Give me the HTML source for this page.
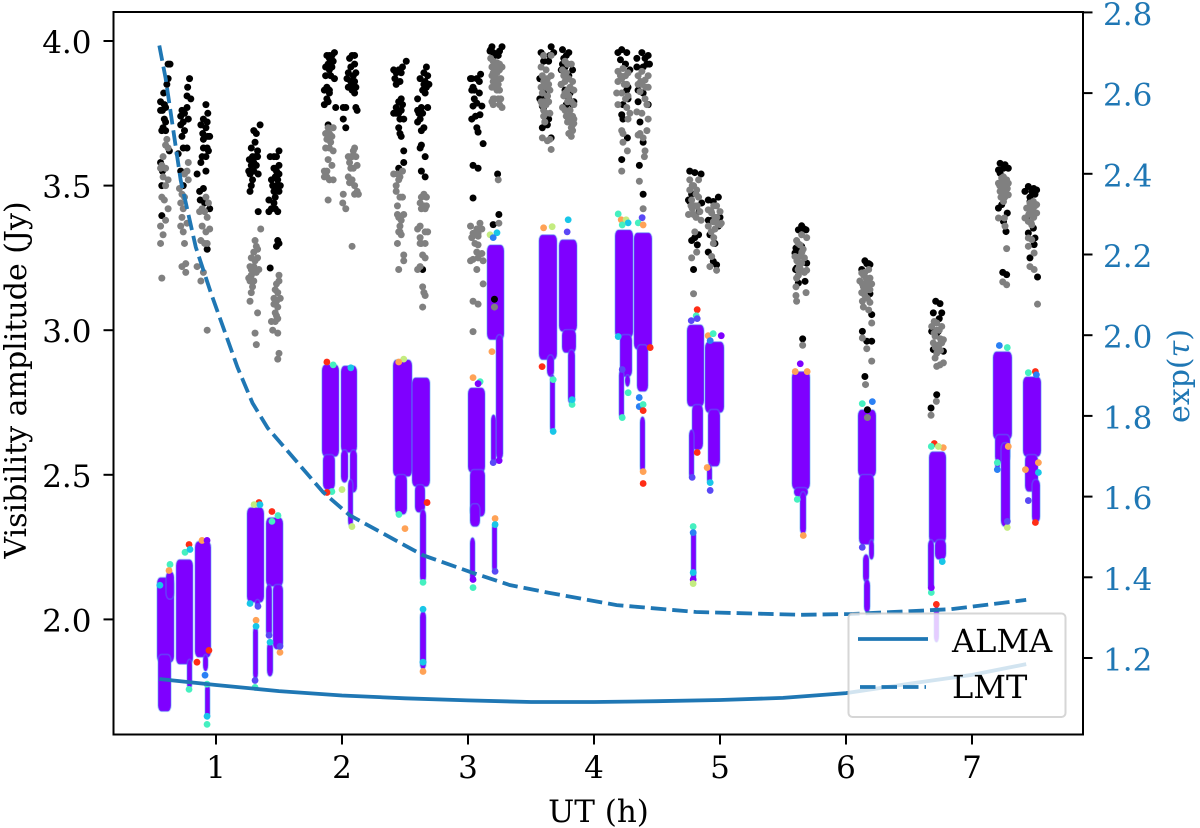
<!DOCTYPE html>
<html lang="en">
<head>
<meta charset="utf-8">
<title>Visibility amplitude and opacity vs UT</title>
<style>
html,body{margin:0;padding:0;background:#fff;}
svg{display:block;font-family:"DejaVu Serif","Liberation Serif",serif;}
</style>
</head>
<body>
<svg id="chart" width="1200" height="828" viewBox="0 0 1200 828" xmlns="http://www.w3.org/2000/svg">
  <rect x="0" y="0" width="1200" height="828" fill="#fff"/>
  <g id="segments"></g>
  <g id="capdots"></g>
  <g id="dots"></g>
  <g id="lines"></g>
  <g id="legend">
    <rect x="848.5" y="613.5" width="217" height="103.5" rx="4" ry="4" fill="#fff" fill-opacity="0.8" stroke="#ccc" stroke-opacity="0.8" stroke-width="2"/>
    <line x1="858" y1="639" x2="928" y2="639" stroke="#1f77b4" stroke-width="3.8"/>
    <line x1="860" y1="687" x2="926" y2="687" stroke="#1f77b4" stroke-width="3.8" stroke-dasharray="15.5 6"/>
    <text x="952" y="652" font-size="32" fill="#000">ALMA</text>
    <text x="952" y="698" font-size="32" fill="#000">LMT</text>
  </g>
  <g id="axes">
    <rect x="113.5" y="12" width="969.5" height="722.5" fill="none" stroke="#000" stroke-width="2"/>
  </g>
  <text x="598.5" y="822" font-size="31" text-anchor="middle" fill="#000">UT (h)</text>
  <text transform="translate(26,380) rotate(-90)" font-size="30" text-anchor="middle" fill="#000">Visibility amplitude (Jy)</text>
  <text transform="translate(1189,376) rotate(-90)" font-size="30" text-anchor="middle" fill="#1f77b4">exp(<tspan font-style="italic">τ</tspan>)</text>
</svg>
<script>
var xTicks = [1,2,3,4,5,6,7];
var ampTicks = [2.0,2.5,3.0,3.5,4.0];
var tauTicks = [1.2,1.4,1.6,1.8,2.0,2.2,2.4,2.6,2.8];

// Opacity curves: UT (h) and exp(tau)
var almaTime = [0.55,1,1.5,2,2.5,3,3.5,4,4.5,5,5.5,6,6.5,7,7.43];
var almaTau = [1.148,1.133,1.118,1.107,1.100,1.095,1.091,1.091,1.093,1.096,1.101,1.113,1.136,1.158,1.185];
var lmtTime = [0.55,0.6,0.72,0.84,0.96,1.17,1.29,1.41,1.85,2.06,2.64,3.04,3.33,3.65,4.18,4.81,5.64,6.04,6.83,7.43];
var lmtTau = [2.718,2.637,2.384,2.218,2.104,1.921,1.832,1.770,1.611,1.554,1.455,1.411,1.381,1.361,1.331,1.314,1.307,1.309,1.321,1.344];

// Dense calibrated scans: [t start, t end, amp high, amp low]
var scanBands = [
[.532,.667,2.145,1.852],[.540,.643,1.879,1.682],[.603,.667,2.166,2.07],
[.683,.817,2.207,1.845],[.770,.810,1.862,1.758],
[.833,.960,2.270,1.869],[.897,.937,1.879,1.821],[.913,.952,1.776,1.655],
[1.246,1.381,2.387,2.059],[1.310,1.349,2.069,2.042],[1.294,1.333,1.976,1.793],
[1.397,1.532,2.352,2.114],[1.397,1.444,2.121,1.941],[1.452,1.532,2.121,1.897],[1.405,1.452,1.921,1.803],
[1.841,1.976,2.881,2.563],[1.849,1.944,2.570,2.449],
[1.992,2.119,2.877,2.577],[1.992,2.048,2.587,2.473],[2.063,2.119,2.587,2.439],[2.048,2.087,2.484,2.321],
[2.405,2.556,2.898,2.494],[2.421,2.516,2.501,2.363],
[2.556,2.698,2.836,2.459],[2.579,2.659,2.466,2.370],[2.619,2.667,2.380,2.128],[2.619,2.667,2.028,1.827],
[3.0,3.135,2.801,2.508],[3.016,3.135,2.518,2.356],[3.016,3.095,2.4,2.321],[3.016,3.056,2.283,2.131],
[3.151,3.286,3.295,2.967],[3.222,3.278,2.985,2.553],[3.183,3.222,2.708,2.536],[3.191,3.230,2.335,2.162],
[3.563,3.706,3.330,2.898],[3.627,3.683,2.915,2.839],[3.651,3.690,2.846,2.646],
[3.722,3.865,3.313,2.995],[3.746,3.857,3.002,2.922],[3.794,3.849,2.933,2.743],
[4.167,4.310,3.347,2.974],[4.206,4.302,2.985,2.839],[4.246,4.286,2.846,2.805],[4.198,4.238,2.864,2.691],
[4.317,4.460,3.337,2.933],[4.341,4.429,2.950,2.788],[4.365,4.405,2.701,2.508],
[4.738,4.873,3.019,2.736],[4.778,4.865,2.743,2.587],[4.754,4.794,2.656,2.484],[4.770,4.810,2.311,2.128],
[4.881,5.032,2.960,2.715],[4.905,5.0,2.726,2.529],[4.897,4.937,2.536,2.466],
[5.571,5.714,2.857,2.449],[5.587,5.698,2.456,2.425],[5.635,5.683,2.442,2.294],
[6.095,6.238,2.725,2.494],[6.103,6.222,2.501,2.259],[6.183,6.222,2.276,2.207],[6.135,6.183,2.225,2.128],[6.143,6.191,2.138,2.024],
[6.659,6.794,2.580,2.266],[6.706,6.794,2.276,2.207],[6.651,6.698,2.276,2.097],[6.698,6.738,2.045,1.921],
[7.167,7.317,2.926,2.622],[7.183,7.302,2.639,2.542],[7.183,7.222,2.553,2.518],[7.230,7.302,2.611,2.321],
[7.405,7.548,2.839,2.563],[7.421,7.524,2.570,2.442],[7.476,7.540,2.484,2.335]
];

// Isolated coloured points at the band edges: [t, amp, colour class]
var edgePoints = [
[.635,2.19,'T'],[.627,2.169,'O'],[.555,2.118,'C'],[.786,2.259,'R'],[.754,2.232,'T'],[.794,2.242,'C'],[.889,2.273,'O'],[.929,2.273,'P'],[.849,1.852,'R'],[.944,1.893,'R'],[.913,1.807,'B'],[.786,1.758,'T'],[.929,1.637,'T'],[.929,1.665,'C'],[.929,1.776,'T'],
[1.341,2.404,'R'],[1.302,2.397,'Y'],[1.349,2.397,'C'],[1.444,2.373,'R'],[1.492,2.359,'T'],[1.444,2.339,'T'],[1.318,1.997,'O'],[1.318,1.976,'C'],[1.31,1.789,'I'],[1.31,1.765,'T'],[1.429,1.921,'C'],[1.421,1.945,'I'],[1.508,1.886,'O'],[1.508,1.907,'I'],[1.27,2.055,'C'],[1.333,2.045,'I'],
[1.92,2.442,'T'],[1.881,2.439,'R'],[2.0,2.449,'Y'],[2.079,2.321,'Y'],[1.88,2.89,'R'],[1.93,2.88,'T'],[2.07,2.87,'C'],
[2.5,2.314,'O'],[2.452,2.363,'T'],[2.675,2.404,'R'],[2.643,2.128,'T'],[2.643,2.035,'C'],[2.643,1.82,'O'],[2.643,1.852,'C'],[2.49,2.9,'Y'],[2.45,2.89,'O'],
[3.04,2.836,'O'],[3.096,2.822,'T'],[3.08,2.815,'P'],[3.04,2.11,'T'],[3.04,2.138,'P'],[3.215,2.349,'O'],[3.215,2.328,'C'],[3.215,2.166,'I'],[3.247,2.549,'P'],[3.2,2.542,'I'],[3.19,2.926,'O'],[3.175,3.33,'Y'],[3.23,3.337,'C'],[3.2,3.32,'B'],
[3.6,3.354,'O'],[3.668,3.358,'Y'],[3.795,3.382,'C'],[3.787,3.34,'I'],[3.588,2.874,'R'],[3.676,2.829,'T'],[3.676,2.65,'C'],[3.826,2.743,'T'],[3.826,2.76,'C'],
[4.192,3.402,'T'],[4.216,3.382,'O'],[4.255,3.382,'Y'],[4.271,3.371,'C'],[4.224,3.364,'T'],[4.382,3.389,'I'],[4.351,3.371,'T'],[4.39,3.364,'O'],[4.271,2.784,'T'],[4.192,2.978,'C'],[4.224,2.864,'I'],[4.224,2.698,'T'],[4.359,2.767,'B'],[4.359,2.736,'B'],[4.39,2.743,'T'],[4.39,2.722,'R'],[4.39,2.511,'O'],[4.39,2.47,'R'],[4.446,2.94,'R'],
[4.819,3.071,'R'],[4.811,3.05,'T'],[4.819,3.04,'I'],[4.772,3.033,'I'],[4.819,2.577,'R'],[4.906,2.981,'O'],[4.946,2.988,'T'],[5.01,2.981,'P'],[4.922,2.964,'B'],[4.898,2.525,'O'],[4.779,2.491,'I'],[4.922,2.446,'I'],[4.922,2.473,'C'],[4.787,2.321,'T'],[4.787,2.3,'B'],[4.787,2.138,'P'],[4.787,2.124,'Y'],[4.787,2.162,'C'],
[5.637,2.884,'P'],[5.597,2.857,'O'],[5.692,2.857,'O'],[5.613,2.415,'T'],[5.661,2.29,'O'],
[6.129,2.746,'T'],[6.209,2.753,'B'],[6.129,2.249,'I'],[6.701,2.608,'R'],[6.772,2.594,'O'],[6.677,2.598,'T'],[6.733,2.598,'Y'],[6.677,2.093,'T'],[6.677,2.11,'P'],[6.764,2.2,'C'],[6.717,2.052,'R'],
[7.217,2.947,'B'],[7.28,2.94,'T'],[7.201,2.518,'B'],[7.201,2.542,'T'],[7.28,2.318,'Y'],[7.28,2.339,'I'],[7.288,2.598,'O'],[7.447,2.853,'T'],[7.503,2.857,'R'],[7.511,2.846,'B'],[7.447,2.411,'I'],[7.503,2.335,'R'],[7.527,2.542,'O'],[7.424,2.518,'O'],[7.527,2.508,'C']
];

// Uncalibrated points: [t, amp]
var rawBlack = [
[.635,3.92],[.62,3.92],[.62,3.87],[.61,3.85],[.585,3.82],[.59,3.78],[.56,3.79],[.575,3.76],[.6,3.77],[.56,3.76],[.59,3.73],[.58,3.7],[.6,3.72],[.57,3.69],[.6,3.69],[.63,3.62],[.56,3.58],[.575,3.55],[.57,3.5],[.57,3.396],
[.79,3.87],[.775,3.84],[.77,3.81],[.8,3.8],[.77,3.77],[.73,3.76],[.75,3.75],[.72,3.74],[.74,3.72],[.78,3.73],[.72,3.71],[.75,3.69],[.73,3.67],[.77,3.63],[.74,3.63],[.7,3.61],[.72,3.55],[.74,3.5],
[.92,3.78],[.935,3.75],[.9,3.73],[.93,3.72],[.88,3.71],[.92,3.7],[.895,3.68],[.935,3.67],[.9,3.66],[.95,3.67],[.94,3.62],[.9,3.63],[.93,3.63],[.89,3.6],[.92,3.6],[.88,3.58],[.92,3.55],[.85,3.54],[.9,3.49],[.87,3.48],[.875,3.45],[.91,3.44],[.95,3.42],[.93,3.28],
[1.35,3.71],[1.3,3.69],[1.32,3.68],[1.31,3.65],[1.33,3.62],[1.28,3.63],[1.29,3.6],[1.31,3.6],[1.33,3.6],[1.265,3.59],[1.3,3.58],[1.28,3.57],[1.32,3.57],[1.26,3.55],[1.3,3.55],[1.27,3.54],[1.335,3.54],[1.29,3.52],[1.28,3.5],[1.27,3.48],[1.335,3.41],
[1.5,3.62],[1.43,3.6],[1.46,3.6],[1.48,3.6],[1.5,3.57],[1.46,3.56],[1.48,3.55],[1.5,3.54],[1.47,3.53],[1.44,3.52],[1.49,3.52],[1.51,3.5],[1.48,3.5],[1.45,3.5],[1.5,3.48],[1.46,3.48],[1.47,3.46],[1.46,3.44],[1.42,3.45],[1.42,3.41],[1.47,3.42],[1.49,3.41],[1.44,3.42],[1.49,3.31],[1.5,3.3],[1.48,3.29],[1.43,3.215],
[1.94,3.96],[1.9,3.95],[1.92,3.95],[1.88,3.95],[1.93,3.93],[1.9,3.94],[1.89,3.92],[1.92,3.91],[1.87,3.91],[1.9,3.9],[1.87,3.88],[1.91,3.88],[1.94,3.87],[1.88,3.84],[1.9,3.83],[1.86,3.83],[1.9,3.82],[1.89,3.79],[1.86,3.78],[1.88,3.8],[1.95,3.77],[1.89,3.71],
[2.08,3.95],[2.1,3.95],[2.06,3.94],[2.1,3.92],[2.07,3.91],[2.11,3.89],[2.05,3.89],[2.09,3.88],[2.07,3.86],[2.1,3.86],[2.04,3.87],[2.08,3.84],[2.11,3.84],[2.05,3.84],[2.08,3.83],[2.1,3.82],[2.11,3.77],[2.12,3.76],[2.01,3.77],[2.03,3.77],[2.01,3.73],[2.03,3.7],
[2.51,3.93],[2.48,3.91],[2.45,3.9],[2.41,3.9],[2.47,3.89],[2.43,3.89],[2.42,3.87],[2.46,3.86],[2.43,3.85],[2.47,3.8],[2.45,3.79],[2.48,3.78],[2.43,3.77],[2.47,3.76],[2.43,3.75],[2.41,3.75],[2.45,3.75],[2.46,3.73],[2.49,3.73],[2.46,3.68],[2.45,3.7],[2.47,3.67],[2.49,3.62],[2.49,3.58],[2.45,3.56],
[2.67,3.91],[2.65,3.89],[2.68,3.88],[2.62,3.87],[2.66,3.86],[2.69,3.85],[2.65,3.85],[2.68,3.85],[2.64,3.83],[2.67,3.84],[2.66,3.82],[2.6,3.8],[2.63,3.77],[2.68,3.77],[2.6,3.76],[2.64,3.75],[2.61,3.75],[2.62,3.73],[2.6,3.72],[2.65,3.7],[2.63,3.69],[2.63,3.64],[2.62,3.63],[2.66,3.6],[2.63,3.55],[2.66,3.53],[2.64,3.21],
[3.03,3.87],[3.1,3.885],[3.09,3.86],[3.04,3.84],[3.03,3.83],[3.09,3.82],[3.05,3.8],[3.07,3.785],[3.04,3.775],[3.11,3.775],[3.095,3.745],[3.06,3.74],[3.03,3.73],[3.07,3.7],[3.08,3.685],[3.12,3.645],[3.04,3.57],[3.08,3.56],[3.04,3.457],[3.07,3.87],[3.02,3.87],[3.05,3.83],
[3.19,3.98],[3.27,3.98],[3.2,3.96],[3.175,3.965],[3.24,3.95],[3.215,3.95],[3.235,3.54],[3.245,3.4],[3.2,3.365],[3.18,3.97],[3.25,3.965],[3.21,3.107],
[3.66,3.98],[3.58,3.96],[3.6,3.95],[3.65,3.95],[3.68,3.96],[3.64,3.93],[3.6,3.93],[3.57,3.87],[3.6,3.82],[3.63,3.81],[3.59,3.8],[3.57,3.8],[3.61,3.78],[3.6,3.77],[3.59,3.775],[3.63,3.73],[3.61,3.72],[3.64,3.73],[3.63,3.71],[3.59,3.7],[3.66,3.665],
[3.75,3.97],[3.78,3.95],[3.8,3.96],[3.76,3.94],[3.75,3.92],[3.79,3.92],[3.77,3.91],[3.74,3.9],[3.8,3.88],[3.83,3.9],[3.79,3.87],[3.74,3.85],[3.77,3.83],[3.81,3.82],[3.84,3.79],[3.8,3.8],[3.78,3.78],[3.83,3.78],
[4.19,3.96],[4.26,3.96],[4.22,3.97],[4.21,3.935],[4.25,3.92],[4.285,3.9],[4.26,3.83],[4.27,3.8],[4.23,3.78],[4.22,3.745],[4.23,3.73],[4.265,3.665],[4.22,3.59],[4.27,3.84],
[4.38,3.96],[4.43,3.95],[4.34,3.94],[4.405,3.94],[4.44,3.92],[4.39,3.91],[4.34,3.91],[4.35,3.83],[4.39,3.82],[4.43,3.78],[4.35,3.79],[4.365,3.72],[4.39,3.65],[4.36,3.57],[4.39,3.47],[4.42,3.92],
[4.76,3.55],[4.80,3.545],[4.85,3.54],[4.775,3.47],[4.76,3.445],[4.855,3.44],[4.835,3.41],[4.775,3.31],[4.83,3.33],[4.8,3.32],[4.82,3.295],[4.79,3.21],[4.75,3.45],
[4.907,3.45],[4.987,3.46],[4.947,3.445],[4.934,3.38],[5.0,3.39],[4.907,3.38],[4.987,3.36],[4.907,3.27],[4.947,3.238],[4.973,3.226],[4.96,3.3],[4.92,3.33],
[5.648,3.361],[5.622,3.347],[5.683,3.347],[5.603,3.284],[5.648,3.29],[5.595,3.267],[5.608,3.215],[5.688,3.232],[5.622,3.163],[5.675,3.169],[5.656,2.97],[5.67,3.35],[5.63,3.28],[5.6,3.21],
[6.15,3.24],[6.19,3.227],[6.125,3.21],[6.19,3.126],[6.204,3.054],[6.13,2.996],[6.165,2.962],[6.204,2.962],[6.15,2.84],[6.17,2.725],[6.18,3.23],[6.165,3.23],
[6.712,3.1],[6.746,3.092],[6.693,3.06],[6.76,3.06],[6.68,2.996],[6.72,2.99],[6.693,2.933],[6.773,2.927],[6.72,2.777],[6.675,2.731],[6.733,2.996],[6.74,3.04],
[7.223,3.577],[7.262,3.572],[7.21,3.554],[7.288,3.56],[7.223,3.543],[7.21,3.422],[7.236,3.434],[7.28,3.405],[7.25,3.376],[7.27,3.341],[7.244,3.2],[7.275,3.192],[7.25,3.56],
[7.447,3.497],[7.513,3.485],[7.42,3.48],[7.474,3.48],[7.46,3.46],[7.46,3.445],[7.435,3.388],[7.487,3.353],[7.447,3.336],[7.5,3.319],[7.493,3.296],[7.46,3.25],[7.52,3.184],[7.49,3.49],[7.5,3.47]
];
var rawGray = [
[.61,3.66],[.6,3.64],[.62,3.63],[.58,3.6],[.57,3.57],[.56,3.56],[.6,3.56],[.58,3.53],[.6,3.5],[.62,3.52],[.57,3.46],[.59,3.45],[.6,3.38],[.62,3.42],[.56,3.36],[.58,3.33],[.56,3.3],[.57,3.18],
[.78,3.58],[.77,3.55],[.75,3.54],[.78,3.52],[.71,3.49],[.73,3.47],[.75,3.46],[.72,3.44],[.74,3.42],[.73,3.39],[.77,3.37],[.74,3.34],[.72,3.36],[.75,3.3],[.76,3.23],[.73,3.22],[.76,3.2],
[.92,3.46],[.94,3.44],[.89,3.42],[.91,3.41],[.93,3.39],[.87,3.41],[.89,3.36],[.92,3.34],[.95,3.35],[.88,3.31],[.91,3.3],[.93,3.3],[.85,3.22],[.9,3.2],[.88,3.17],[.93,3.0],
[1.355,3.35],[1.31,3.31],[1.32,3.29],[1.33,3.28],[1.3,3.27],[1.33,3.25],[1.31,3.24],[1.28,3.25],[1.3,3.22],[1.28,3.21],[1.34,3.21],[1.32,3.2],[1.27,3.22],[1.28,3.19],[1.3,3.2],[1.3,3.17],[1.26,3.18],[1.27,3.17],[1.28,3.13],[1.29,3.15],[1.27,3.1],[1.33,3.06],[1.31,2.99],[1.32,2.95],
[1.5,3.19],[1.48,3.16],[1.5,3.17],[1.47,3.14],[1.49,3.13],[1.46,3.11],[1.48,3.1],[1.51,3.11],[1.46,3.09],[1.49,3.08],[1.47,3.06],[1.48,3.05],[1.49,3.04],[1.47,3.03],[1.44,3.03],[1.45,3.0],[1.49,2.99],[1.5,2.92],[1.49,2.9],
[1.89,3.7],[1.93,3.7],[1.9,3.68],[1.87,3.68],[1.92,3.67],[1.88,3.66],[1.91,3.65],[1.9,3.63],[1.87,3.63],[1.93,3.62],[1.89,3.59],[1.92,3.57],[1.88,3.55],[1.86,3.55],[1.88,3.53],[1.86,3.53],[1.9,3.52],[1.93,3.52],[1.89,3.45],
[2.1,3.63],[2.09,3.62],[2.07,3.6],[2.05,3.6],[2.08,3.6],[2.11,3.6],[2.06,3.58],[2.09,3.56],[2.12,3.57],[2.07,3.56],[2.05,3.53],[2.08,3.52],[2.06,3.51],[2.1,3.5],[2.12,3.48],[2.1,3.47],[2.13,3.47],[2.01,3.47],[2.006,3.44],[2.03,3.42],[2.08,3.29],
[2.48,3.55],[2.46,3.53],[2.44,3.54],[2.41,3.54],[2.45,3.52],[2.43,3.5],[2.43,3.48],[2.48,3.46],[2.46,3.46],[2.44,3.43],[2.46,3.39],[2.49,3.4],[2.45,3.39],[2.44,3.4],[2.47,3.38],[2.46,3.36],[2.45,3.34],[2.46,3.34],[2.47,3.33],[2.44,3.3],[2.49,3.26],[2.49,3.24],[2.45,3.21],
[2.65,3.47],[2.63,3.46],[2.67,3.46],[2.62,3.44],[2.65,3.43],[2.67,3.43],[2.63,3.42],[2.66,3.42],[2.62,3.36],[2.6,3.35],[2.62,3.32],[2.66,3.34],[2.68,3.34],[2.66,3.3],[2.63,3.3],[2.62,3.3],[2.64,3.26],[2.66,3.25],[2.62,3.22],[2.6,3.21],[2.64,3.15],[2.65,3.13],[2.66,3.12],[2.64,3.08],
[3.02,3.36],[3.095,3.37],[3.07,3.35],[3.11,3.35],[3.04,3.335],[3.08,3.325],[3.03,3.32],[3.055,3.3],[3.08,3.295],[3.07,3.27],[3.11,3.265],[3.04,3.245],[3.08,3.25],[3.12,3.24],[3.07,3.21],[3.12,3.16],[3.04,3.1],[3.08,3.09],[3.04,2.995],[3.08,3.335],[3.02,3.24],
[3.18,3.94],[3.2,3.93],[3.23,3.925],[3.25,3.92],[3.19,3.91],[3.22,3.91],[3.25,3.9],[3.27,3.91],[3.2,3.89],[3.23,3.89],[3.19,3.88],[3.22,3.87],[3.26,3.87],[3.2,3.86],[3.24,3.85],[3.19,3.84],[3.23,3.83],[3.21,3.84],[3.25,3.83],[3.2,3.8],[3.24,3.8],[3.26,3.8],[3.19,3.79],[3.25,3.78],[3.2,3.78],[3.27,3.77],[3.21,3.8],[3.24,3.52],[3.245,3.37],[3.21,3.08],
[3.6,3.95],[3.66,3.95],[3.58,3.91],[3.62,3.9],[3.59,3.88],[3.63,3.87],[3.66,3.88],[3.6,3.86],[3.64,3.85],[3.58,3.84],[3.62,3.84],[3.65,3.83],[3.59,3.82],[3.63,3.81],[3.6,3.79],[3.58,3.79],[3.64,3.79],[3.62,3.78],[3.59,3.78],[3.62,3.75],[3.6,3.76],[3.65,3.75],[3.6,3.74],[3.61,3.72],[3.59,3.665],[3.65,3.66],[3.63,3.655],[3.66,3.625],
[3.77,3.93],[3.79,3.92],[3.82,3.92],[3.75,3.9],[3.78,3.89],[3.8,3.87],[3.76,3.88],[3.83,3.86],[3.77,3.86],[3.81,3.84],[3.74,3.85],[3.79,3.83],[3.77,3.82],[3.84,3.83],[3.8,3.81],[3.76,3.81],[3.82,3.79],[3.79,3.79],[3.84,3.78],[3.75,3.77],[3.77,3.76],[3.81,3.76],[3.83,3.74],[3.78,3.74],[3.8,3.74],[3.84,3.73],[3.81,3.72],[3.83,3.71],[3.79,3.72],[3.83,3.69],[3.84,3.715],[3.82,3.7],[3.8,3.68],[3.82,3.67],
[4.23,3.905],[4.19,3.895],[4.27,3.89],[4.22,3.87],[4.19,3.86],[4.26,3.85],[4.25,3.88],[4.22,3.82],[4.18,3.82],[4.27,3.81],[4.25,3.8],[4.19,3.78],[4.26,3.77],[4.22,3.69],[4.23,3.68],[4.23,3.65],[4.265,3.62],[4.22,3.55],[4.285,3.75],[4.27,3.73],[4.21,3.88],[4.24,3.85],
[4.38,3.895],[4.43,3.88],[4.35,3.88],[4.405,3.865],[4.38,3.85],[4.35,3.85],[4.43,3.84],[4.365,3.825],[4.405,3.8],[4.42,3.78],[4.34,3.755],[4.38,3.75],[4.43,3.73],[4.365,3.68],[4.42,3.69],[4.35,3.675],[4.39,3.665],[4.405,3.62],[4.4,3.6],[4.36,3.515],[4.39,3.42],[4.37,3.86],[4.41,3.84],
[4.76,3.52],[4.83,3.52],[4.79,3.5],[4.815,3.485],[4.775,3.45],[4.83,3.46],[4.8,3.43],[4.75,3.4],[4.79,3.4],[4.85,3.38],[4.8,3.34],[4.815,3.27],[4.775,3.25],[4.79,3.126],[4.76,3.485],[4.84,3.41],[4.81,3.39],[4.78,3.5],[4.81,3.47],[4.78,3.42],[4.82,3.43],[4.77,3.43],
[4.907,3.416],[4.973,3.43],[4.934,3.405],[5.0,3.41],[4.947,3.375],[4.907,3.36],[5.0,3.365],[4.96,3.35],[4.947,3.3],[4.934,3.255],[4.92,3.22],[4.973,3.207],[5.01,3.37],[4.95,3.43],[4.975,3.39],[4.93,3.41],[4.96,3.39],[4.98,3.37],[4.93,3.34],[4.95,3.32],
[5.648,3.33],[5.608,3.31],[5.688,3.32],[5.635,3.295],[5.595,3.255],[5.635,3.255],[5.688,3.207],[5.622,3.19],[5.608,3.18],[5.603,3.15],[5.683,3.13],[5.603,3.12],[5.608,3.1],[5.656,2.948],[5.648,3.232],[5.66,3.28],[5.63,3.22],[5.62,3.3],[5.65,3.27],[5.67,3.25],[5.61,3.24],[5.64,3.21],[5.67,3.2],[5.62,3.21],
[6.125,3.198],[6.19,3.18],[6.11,3.17],[6.165,3.17],[6.138,3.15],[6.204,3.16],[6.125,3.13],[6.138,3.08],[6.19,3.096],[6.18,3.07],[6.204,3.025],[6.13,2.973],[6.165,2.936],[6.204,2.893],[6.155,2.812],[6.17,2.698],[6.15,3.2],[6.18,3.21],[6.13,3.1],[6.14,3.19],[6.16,3.18],[6.18,3.16],[6.15,3.16],[6.17,3.14],[6.13,3.16],[6.19,3.14],[6.15,3.12],[6.17,3.11],
[6.72,3.025],[6.68,3.013],[6.76,3.013],[6.707,2.979],[6.773,2.967],[6.693,2.956],[6.76,2.956],[6.707,2.904],[6.773,2.887],[6.72,2.875],[6.746,2.88],[6.717,2.754],[6.675,2.706],[6.74,3.0],[6.7,3.03],[6.72,3.0],[6.75,2.97],[6.7,2.99],[6.74,2.95],[6.71,2.94],[6.75,2.93],[6.72,2.92],
[7.236,3.526],[7.275,3.52],[7.21,3.508],[7.25,3.508],[7.288,3.508],[7.223,3.48],[7.262,3.48],[7.288,3.468],[7.25,3.445],[7.21,3.388],[7.257,3.388],[7.262,3.36],[7.275,3.282],[7.244,3.167],[7.275,3.157],[7.236,3.49],[7.25,3.53],[7.24,3.5],[7.27,3.5],[7.22,3.5],[7.26,3.46],[7.23,3.46],[7.25,3.48],[7.28,3.49],
[7.487,3.445],[7.434,3.422],[7.513,3.434],[7.474,3.41],[7.42,3.388],[7.513,3.405],[7.447,3.376],[7.474,3.364],[7.447,3.319],[7.474,3.313],[7.447,3.29],[7.493,3.267],[7.46,3.22],[7.493,3.21],[7.52,3.09],[7.46,3.44],[7.49,3.41],[7.46,3.42],[7.49,3.39],[7.45,3.4],[7.5,3.43],[7.48,3.43],[7.47,3.37]
];

var NS = 'http://www.w3.org/2000/svg';
var palette = {T:'#45f0c0',C:'#18c6e8',B:'#2a80f4',O:'#ffa256',R:'#ff2d16',Y:'#c4ec80',I:'#5a48f6',P:'#7f00ff'};
function xScale(t){ return 216 + (t - 1) * 126; }
function yAmp(a){ return 41 + (4 - a) * 289.2; }
function yTau(v){ return 658 - (v - 1.2) * 403.5; }
function make(tag, attrs, parent){
  var el = document.createElementNS(NS, tag);
  for (var k in attrs) el.setAttribute(k, attrs[k]);
  parent.appendChild(el);
  return el;
}

var segG = document.getElementById('segments');
scanBands.forEach(function(b){
  var x1 = xScale(b[0]), x2 = xScale(b[1]), y1 = yAmp(b[2]), y2 = yAmp(b[3]);
  var w = x2 - x1, h = y2 - y1;
  var band = make('rect', {x:x1, y:y1, width:w, height:h, rx:Math.min(w/2, 3.5), ry:Math.min(h/2, 6), fill:'#7f00ff', stroke:'#3fa0f0', 'stroke-opacity':0.35, 'stroke-width':1.6}, segG);
  
  
});

var capG = document.getElementById('capdots');
edgePoints.forEach(function(p){
  var c = make('circle', {cx:xScale(p[0]), cy:yAmp(p[1]), r:3.4, fill:palette[p[2]]}, capG);
  
  
});

var dotG = document.getElementById('dots');
rawBlack.forEach(function(p){
  var c = make('circle', {cx:xScale(p[0]), cy:yAmp(p[1]), r:3.5, fill:'#000'}, dotG);
  
  
});
rawGray.forEach(function(p){
  var c = make('circle', {cx:xScale(p[0]), cy:yAmp(p[1]), r:3.5, fill:'#808080'}, dotG);
  
  
});

function linePath(ts, vs){
  return ts.map(function(t, i){ return (i ? 'L' : 'M') + xScale(t).toFixed(1) + ' ' + yTau(vs[i]).toFixed(1); }).join(' ');
}
var lineG = document.getElementById('lines');
var almaLine = make('path', {d:linePath(almaTime, almaTau), fill:'none', stroke:'#1f77b4', 'stroke-width':3.8}, lineG);


var lmtLine = make('path', {d:linePath(lmtTime, lmtTau), fill:'none', stroke:'#1f77b4', 'stroke-width':3.8, 'stroke-dasharray':'15.5 6'}, lineG);



var axesG = document.getElementById('axes');
xTicks.forEach(function(v){
  var x = xScale(v);
  var tick = make('line', {x1:x, y1:734.5, x2:x, y2:744.5, stroke:'#000', 'stroke-width':2}, axesG);
  
  
  var lab = make('text', {x:x, y:778, 'font-size':31, 'text-anchor':'middle', fill:'#000'}, axesG);
  
  
  lab.textContent = String(v);
});
ampTicks.forEach(function(v){
  var y = yAmp(v);
  var tick = make('line', {x1:103.5, y1:y, x2:113.5, y2:y, stroke:'#000', 'stroke-width':2}, axesG);
  
  
  var lab = make('text', {x:91.5, y:y+12, 'font-size':31, 'text-anchor':'end', fill:'#000'}, axesG);
  
  
  lab.textContent = v.toFixed(1);
});
tauTicks.forEach(function(v){
  var y = yTau(v);
  var tick = make('line', {x1:1083, y1:y, x2:1092.5, y2:y, stroke:'#000', 'stroke-width':2}, axesG);
  
  
  var lab = make('text', {x:1103, y:y+12.5, 'font-size':31, 'text-anchor':'start', fill:'#1f77b4'}, axesG);
  
  
  lab.textContent = v.toFixed(1);
});
</script>
</body>
</html>
